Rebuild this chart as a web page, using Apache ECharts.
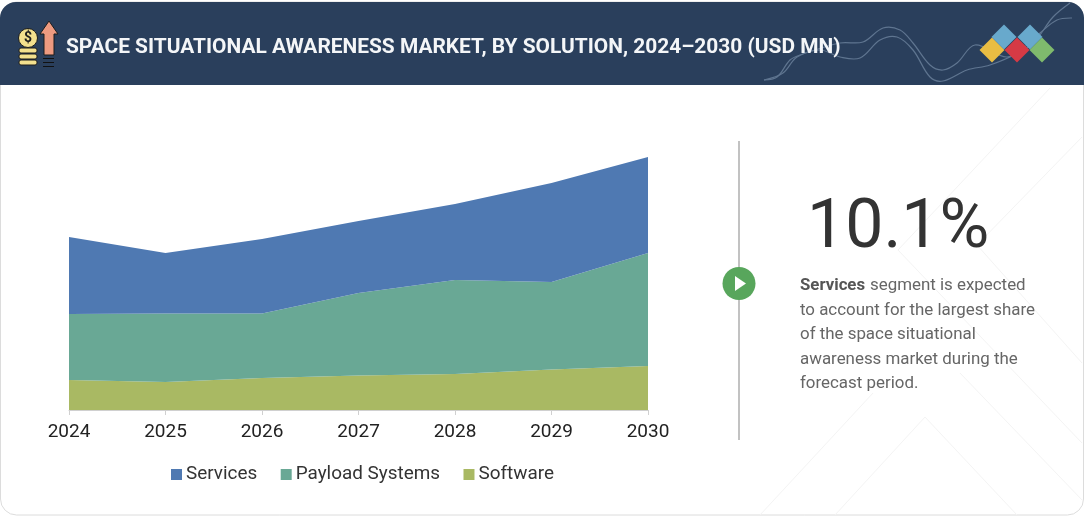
<!DOCTYPE html>
<html><head><meta charset="utf-8">
<script src="https://cdn.jsdelivr.net/npm/echarts@6/dist/echarts.min.js"></script>
<style>html,body{margin:0;padding:0;background:#fff;overflow:hidden}#c{width:1085px;height:517px}</style>
</head><body><div id="c"></div>
<script>
const years = ['2024','2025','2026','2027','2028','2029','2030'];
const software = [30,28,32,34.5,36,40.5,44];
const payload = [66,68.5,64.5,82.5,94,87.5,113];
const services = [77,60.5,74.5,72,76,99,96];
const seriesNames = ['Services','Payload Systems','Software'];
const titleText = 'SPACE SITUATIONAL AWARENESS MARKET, BY SOLUTION, 2024–2030 (USD MN)';
const cagrText = '10.1%';
const noteLines = ['segment is expected','to account for the largest share','of the space situational','awareness market during the','forecast period.'];

const F = 'Roboto';
const colors = {Services:'#4f79b2','Payload Systems':'#69a895',Software:'#a9b963'};
const areaSeries = (name,data)=>({name,type:'line',stack:'t',data,symbol:'none',silent:true,
  lineStyle:{width:0},areaStyle:{color:colors[name],opacity:1},itemStyle:{color:colors[name]}});

const diamond=(x,y,c)=>({type:'polygon',z:5,shape:{points:[[x,y-12.5],[x+12.5,y],[x,y+12.5],[x-12.5,y]]},style:{fill:c}});
const wave=(pts)=>({type:'polyline',z:3,shape:{points:pts,smooth:0.35},style:{stroke:'#5f7590',lineWidth:1.2,fill:null}});
const bgLine=(a,b)=>({type:'line',z:0,shape:{x1:a[0],y1:a[1],x2:b[0],y2:b[1]},style:{stroke:'#f4f4f4',lineWidth:1}});
const coin=(y)=>({type:'rect',z:5,shape:{x:19,y,width:18,height:5,r:2},style:{fill:'#f3e08e',stroke:'#1d1d1d',lineWidth:1}});

const graphic=[
  {type:'rect',z:0,shape:{x:0.5,y:2,width:1083,height:513,r:16},style:{fill:'#fff',stroke:'#dcdcdc',lineWidth:1}},
  bgLine([835,515],[925,417]),bgLine([925,417],[1017,515]),bgLine([760,515],[873,393]),
  bgLine([1050,88],[898,250]),bgLine([898,250],[1082,443]),
  bgLine([1082,137],[977,245]),bgLine([977,245],[1082,363]),bgLine([960,373],[1082,500]),
  {type:'rect',z:1,shape:{x:0,y:2,width:1084,height:83,r:[16,16,0,0]},style:{fill:'#2a3f5c'}},
  wave([[764,80],[777,77],[790,60],[800,55],[840,43],[863,42],[883,28],[900,30],[913,43],[930,65],[943,70],[957,63],[975,45],[1007,57],[1033,43],[1053,17],[1070,3]]),
  wave([[764,80],[783,73],[797,57],[820,50],[840,57],[860,58],[880,40],[897,37],[913,50],[930,77],[943,81],[967,70],[990,65],[1017,53],[1040,33],[1057,20],[1072,18]]),
  coin(48),coin(54),coin(60),
  {type:'circle',z:5,shape:{cx:28,cy:38,r:9.5},style:{fill:'#f3e08e',stroke:'#1d1d1d',lineWidth:1}},
  {type:'text',z:6,style:{x:28,y:38,text:'$',fill:'#1d1d1d',font:'bold 14px '+F,textAlign:'center',textVerticalAlign:'middle'}},
  {type:'polygon',z:5,shape:{points:[[49,21],[58,34],[54,34],[54,55],[44,55],[44,34],[40,34]]},style:{fill:'#ee9a80',stroke:'#1d1d1d',lineWidth:1}},
  {type:'rect',z:5,shape:{x:43,y:58,width:11,height:1},style:{fill:'#111'}},
  {type:'rect',z:5,shape:{x:43,y:62,width:11,height:1},style:{fill:'#111'}},
  {type:'rect',z:5,shape:{x:43,y:66,width:11,height:1},style:{fill:'#111'}},
  {type:'text',z:6,style:{x:66,y:48,text:titleText,fill:'#f4f6f8',font:'bold 20.9px '+F,textVerticalAlign:'middle'}},
  diamond(992,50,'#e9bd43'),diamond(1004,37,'#68a9cc'),diamond(1030,37,'#68a9cc'),diamond(1017,50,'#d63a45'),diamond(1042,50,'#7fba6d'),
  {type:'line',z:2,shape:{x1:739,y1:141,x2:739,y2:440},style:{stroke:'#c2c2c2',lineWidth:2}},
  {type:'circle',z:3,shape:{cx:739,cy:283.5,r:16.5},style:{fill:'#58a65c'}},
  {type:'polygon',z:4,shape:{points:[[735,276],[746,283.5],[735,291]]},style:{fill:'#fff'}},
  {type:'text',z:4,style:{x:807,y:230,text:cagrText,fill:'#333',font:'400 68px '+F,textVerticalAlign:'middle'}},
  {type:'text',z:4,style:{x:800,y:286,text:'Services',fill:'#555',font:'bold 16.8px '+F,textVerticalAlign:'middle'}},
  ...noteLines.map((t,i)=>({type:'text',z:4,style:{x:i?800:870,y:286+24.5*i,text:t,fill:'#666',font:'16.9px '+F,textVerticalAlign:'middle'}}))
];

const chart=echarts.init(document.getElementById('c'),null,{renderer:'canvas'});
chart.setOption({
  animation:false,
  textStyle:{fontFamily:F},
  graphic:{elements:graphic},
  grid:{left:69,right:437,top:157,bottom:107,containLabel:false},
  xAxis:{type:'category',data:years,boundaryGap:false,
    axisLine:{show:true,lineStyle:{color:'#d0d0d0'}},
    axisTick:{show:true,alignWithLabel:true,length:5,lineStyle:{color:'#d0d0d0'}},
    axisLabel:{show:true,color:'#222',fontSize:19,margin:13,fontFamily:F,showMinLabel:true,showMaxLabel:true,interval:0},
    splitLine:{show:false}},
  yAxis:{type:'value',min:0,max:253,show:false,splitLine:{show:false}},
  legend:{data:seriesNames,left:166,top:460,itemWidth:11,itemHeight:11,itemGap:23.5,icon:'rect',
    textStyle:{color:'#333',fontSize:18.9,fontFamily:F,padding:[0,0,0,-1]}},
  series:[areaSeries('Software',software),areaSeries('Payload Systems',payload),areaSeries('Services',services)]
});
</script></body></html>
